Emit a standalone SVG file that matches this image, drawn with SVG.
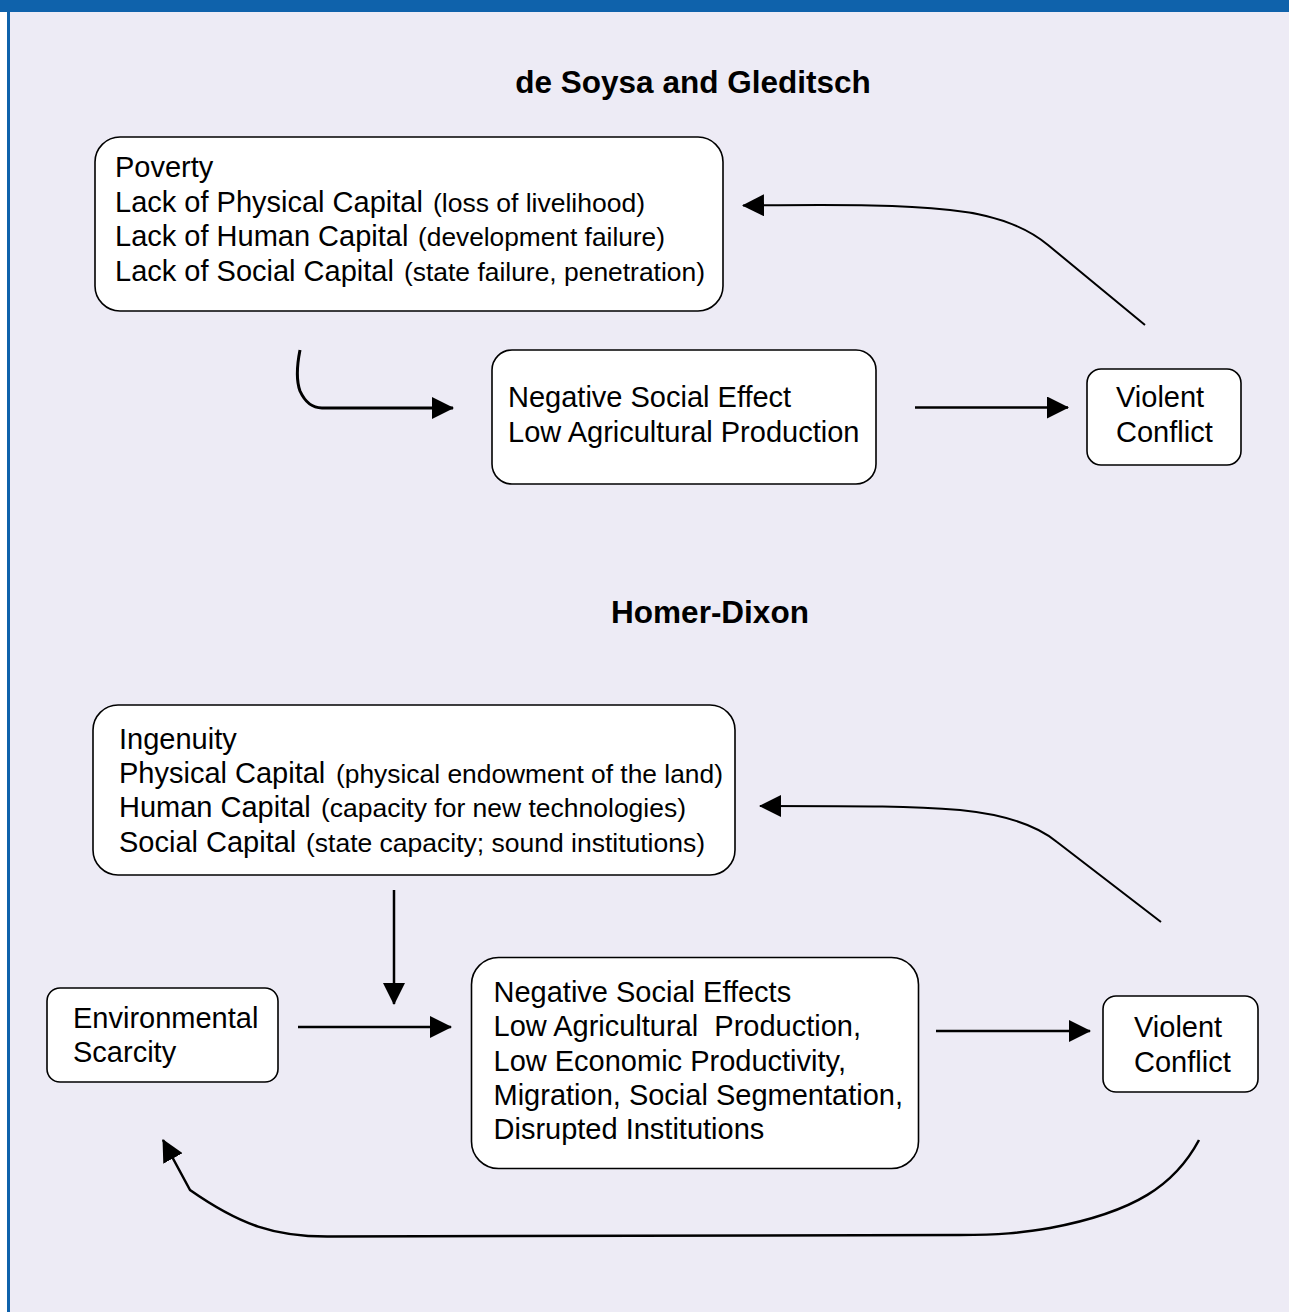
<svg xmlns="http://www.w3.org/2000/svg" width="1289" height="1312" viewBox="0 0 1289 1312">
<style>
.box{fill:#fff;stroke:#000;stroke-width:1.6}
.t{font-family:"Liberation Sans",Arial,sans-serif;font-size:29px;fill:#000}
.s{font-family:"Liberation Sans",Arial,sans-serif;font-size:25.5px;fill:#000}
.h{font-family:"Liberation Sans",Arial,sans-serif;font-size:31.5px;font-weight:bold;fill:#000;text-anchor:middle}
.c{fill:none;stroke:#000;stroke-width:2.5}
.c2{fill:none;stroke:#000;stroke-width:2}
</style>
<defs>
<marker id="ah" viewBox="0 0 22 22" refX="21" refY="11" markerWidth="22" markerHeight="22" markerUnits="userSpaceOnUse" orient="auto">
<path d="M0,0 L22,11 L0,22 z" fill="#000"/>
</marker>
</defs>
<rect x="0" y="0" width="1289" height="1312" fill="#fff"/>
<rect x="10" y="12" width="1279" height="1300" fill="#EDEBF5"/>
<rect x="0" y="0" width="1289" height="12" fill="#0F62AB"/>
<rect x="7" y="0" width="3" height="1312" fill="#0F62AB"/>

<text class="h" x="693" y="93">de Soysa and Gleditsch</text>
<text class="h" x="710" y="623">Homer-Dixon</text>

<g id="poverty">
<rect class="box" x="95" y="137" width="628" height="174" rx="25"/>
<text class="t" x="115" y="177">Poverty</text>
<text class="t" x="115" y="211.7">Lack of Physical Capital <tspan class="s" x="433" textLength="212" lengthAdjust="spacingAndGlyphs">(loss of livelihood)</tspan></text>
<text class="t" x="115" y="246.3">Lack of Human Capital <tspan class="s" x="418" textLength="247" lengthAdjust="spacingAndGlyphs">(development failure)</tspan></text>
<text class="t" x="115" y="281">Lack of Social Capital <tspan class="s" x="404" textLength="301" lengthAdjust="spacingAndGlyphs">(state failure, penetration)</tspan></text>
</g>

<g id="nse1">
<rect class="box" x="492" y="350" width="384" height="134" rx="20"/>
<text class="t" x="508" y="407">Negative Social Effect</text>
<text class="t" x="508" y="441.5">Low Agricultural Production</text>
</g>

<g id="vc1">
<rect class="box" x="1087" y="369" width="154" height="96" rx="14"/>
<text class="t" x="1116" y="407">Violent</text>
<text class="t" x="1116" y="442">Conflict</text>
</g>

<g id="ingenuity">
<rect class="box" x="93" y="705" width="642" height="170" rx="25"/>
<text class="t" x="119" y="748.5">Ingenuity</text>
<text class="t" x="119" y="783">Physical Capital <tspan class="s" x="336" textLength="387" lengthAdjust="spacingAndGlyphs">(physical endowment of the land)</tspan></text>
<text class="t" x="119" y="817.3">Human Capital <tspan class="s" x="321" textLength="365" lengthAdjust="spacingAndGlyphs">(capacity for new technologies)</tspan></text>
<text class="t" x="119" y="851.6">Social Capital <tspan class="s" x="306" textLength="399" lengthAdjust="spacingAndGlyphs">(state capacity; sound institutions)</tspan></text>
</g>

<g id="env">
<rect class="box" x="47" y="988" width="231" height="94" rx="13"/>
<text class="t" x="73" y="1027.7">Environmental</text>
<text class="t" x="73" y="1061.7">Scarcity</text>
</g>

<g id="nse2">
<rect class="box" x="471.5" y="957.5" width="447" height="211" rx="27"/>
<text class="t" x="493.5" y="1001.7" xml:space="preserve">Negative Social Effects</text>
<text class="t" x="493.5" y="1036" xml:space="preserve">Low Agricultural  Production,</text>
<text class="t" x="493.5" y="1070.7">Low Economic Productivity,</text>
<text class="t" x="493.5" y="1105">Migration, Social Segmentation,</text>
<text class="t" x="493.5" y="1139.3">Disrupted Institutions</text>
</g>

<g id="vc2">
<rect class="box" x="1103" y="996" width="155" height="96" rx="13"/>
<text class="t" x="1134" y="1036.7">Violent</text>
<text class="t" x="1134" y="1071.7">Conflict</text>
</g>

<g id="connectors">
<path class="c" style="stroke-width:3" d="M300,350 C297,365 296,380 300,391 C305,402 312,408 322,408 L453,408" marker-end="url(#ah)"/>
<path class="c" d="M915,407.5 L1068,407.5" marker-end="url(#ah)"/>
<path class="c2" d="M1145,325 L1048,245 C1030,230 1000,215 950,210 C900,205 860,204.5 743,205.5" marker-end="url(#ah)"/>
<path class="c" d="M394,890 L394,1004" marker-end="url(#ah)"/>
<path class="c" d="M298,1027 L451,1027" marker-end="url(#ah)"/>
<path class="c" d="M936,1031 L1090,1031" marker-end="url(#ah)"/>
<path class="c2" d="M1161,922 L1057,842 C1040,828 1010,815 960,810 C910,806 870,806 760,806" marker-end="url(#ah)"/>
<path class="c" d="M1199,1140 C1175,1185 1135,1212 1050,1228 C1020,1233 1000,1235 960,1235 L330,1236.5 C275,1237 240,1225 190,1190 L163,1140" marker-end="url(#ah)"/>
</g>
</svg>
